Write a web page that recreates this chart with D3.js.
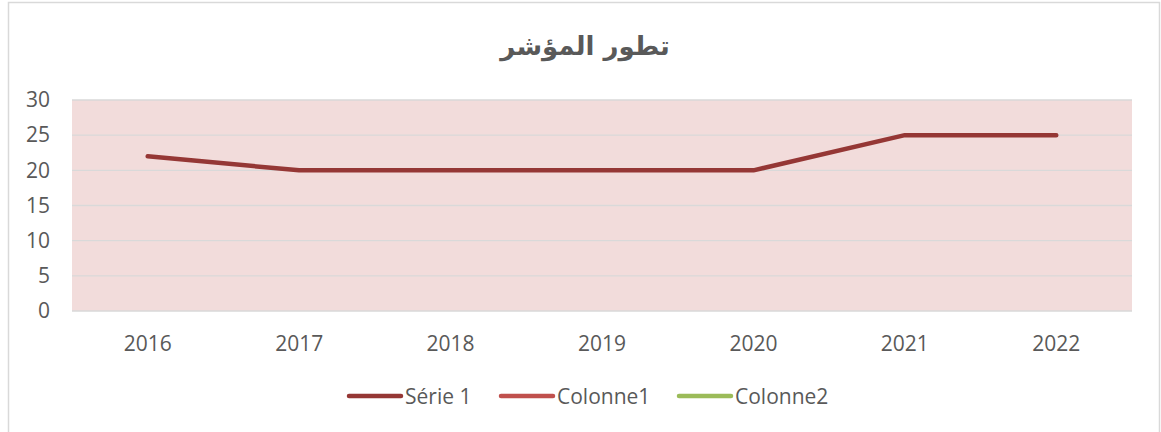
<!DOCTYPE html>
<html lang="ar">
<head>
  <meta charset="utf-8">
  <title>تطور المؤشر</title>
  <script src="https://cdn.jsdelivr.net/npm/d3@7"></script>
  <style>
    body { margin: 0; background: #fff; }
    text { font-family: "Open Sans", "Liberation Sans", sans-serif; fill: #595959; }
  </style>
</head>
<body>
  <div id="chart"></div>
  <script>
    // data
    var years = ["2016", "2017", "2018", "2019", "2020", "2021", "2022"];
    var serie1 = [22, 20, 20, 20, 20, 25, 25];
    var yTicks = [0, 5, 10, 15, 20, 25, 30];
    var legendNames = ["Série 1", "Colonne1", "Colonne2"];
    var legendColors = ["#953735", "#c0504d", "#9bbb59"];

    var W = 1161, H = 432;
    var margin = { top: 100, right: 29, bottom: 121, left: 72 },
      width = W - margin.left - margin.right,
      height = H - margin.top - margin.bottom;

    var svg = d3.select("#chart").append("svg")
      .attr("width", W).attr("height", H);

    // chart border
    svg.append("rect")
      .attr("x", 8.5).attr("y", 2.5)
      .attr("width", 1151).attr("height", 440)
      .attr("fill", "none").attr("stroke", "#d9d9d9").attr("stroke-width", 1.5);

    // title
    svg.append("text")
      .attr("x", 585).attr("y", 55)
      .attr("text-anchor", "middle")
      .style("font-family", "'DejaVu Sans', sans-serif")
      .style("font-weight", "bold")
      .style("font-size", "26px")
      .text("تطور المؤشر");

    var g = svg.append("g")
      .attr("transform", "translate(" + margin.left + "," + margin.top + ")");

    var x = d3.scaleBand().domain(years).range([0, width]);
    var y = d3.scaleLinear().domain([0, 30]).range([height, 0]);

    g.append("rect")
      .attr("width", width).attr("height", height)
      .attr("fill", "#f2dcdb");

    // gridlines
    g.selectAll(".grid").data(yTicks).enter().append("line")
      .attr("x1", 0).attr("x2", width)
      .attr("y1", function (d) { return y(d); })
      .attr("y2", function (d) { return y(d); })
      .attr("stroke", "#d9d9d9").attr("stroke-width", 1.3);

    // y axis labels
    var yAxis = g.append("g")
      .call(d3.axisLeft(y).tickValues(yTicks).tickSize(0).tickPadding(22));
    yAxis.select(".domain").remove();
    yAxis.selectAll("text").style("font-size", "21px").attr("fill", "#595959");

    // x axis labels
    var xAxis = g.append("g")
      .attr("transform", "translate(0," + height + ")")
      .call(d3.axisBottom(x).tickSize(0).tickPadding(25));
    xAxis.select(".domain").remove();
    xAxis.selectAll("text").style("font-size", "21px").attr("fill", "#595959");

    // line
    var line = d3.line()
      .x(function (d, i) { return x(years[i]) + x.bandwidth() / 2; })
      .y(function (d) { return y(d); });

    g.append("path")
      .datum(serie1)
      .attr("d", line)
      .attr("fill", "none")
      .attr("stroke", legendColors[0])
      .attr("stroke-width", 4.5)
      .attr("stroke-linecap", "round")
      .attr("stroke-linejoin", "round");

    // legend
    var legendX = [347, 499, 677];
    var legend = svg.append("g").attr("transform", "translate(0,396)");
    legendNames.forEach(function (name, i) {
      legend.append("line")
        .attr("x1", legendX[i] + 2).attr("x2", legendX[i] + 54)
        .attr("y1", 0).attr("y2", 0)
        .attr("stroke", legendColors[i]).attr("stroke-width", 4.5)
        .attr("stroke-linecap", "round");
      legend.append("text")
        .attr("x", legendX[i] + 58).attr("y", 7.5)
        .style("font-size", "21px")
        .text(name);
    });
  </script>
</body>
</html>
